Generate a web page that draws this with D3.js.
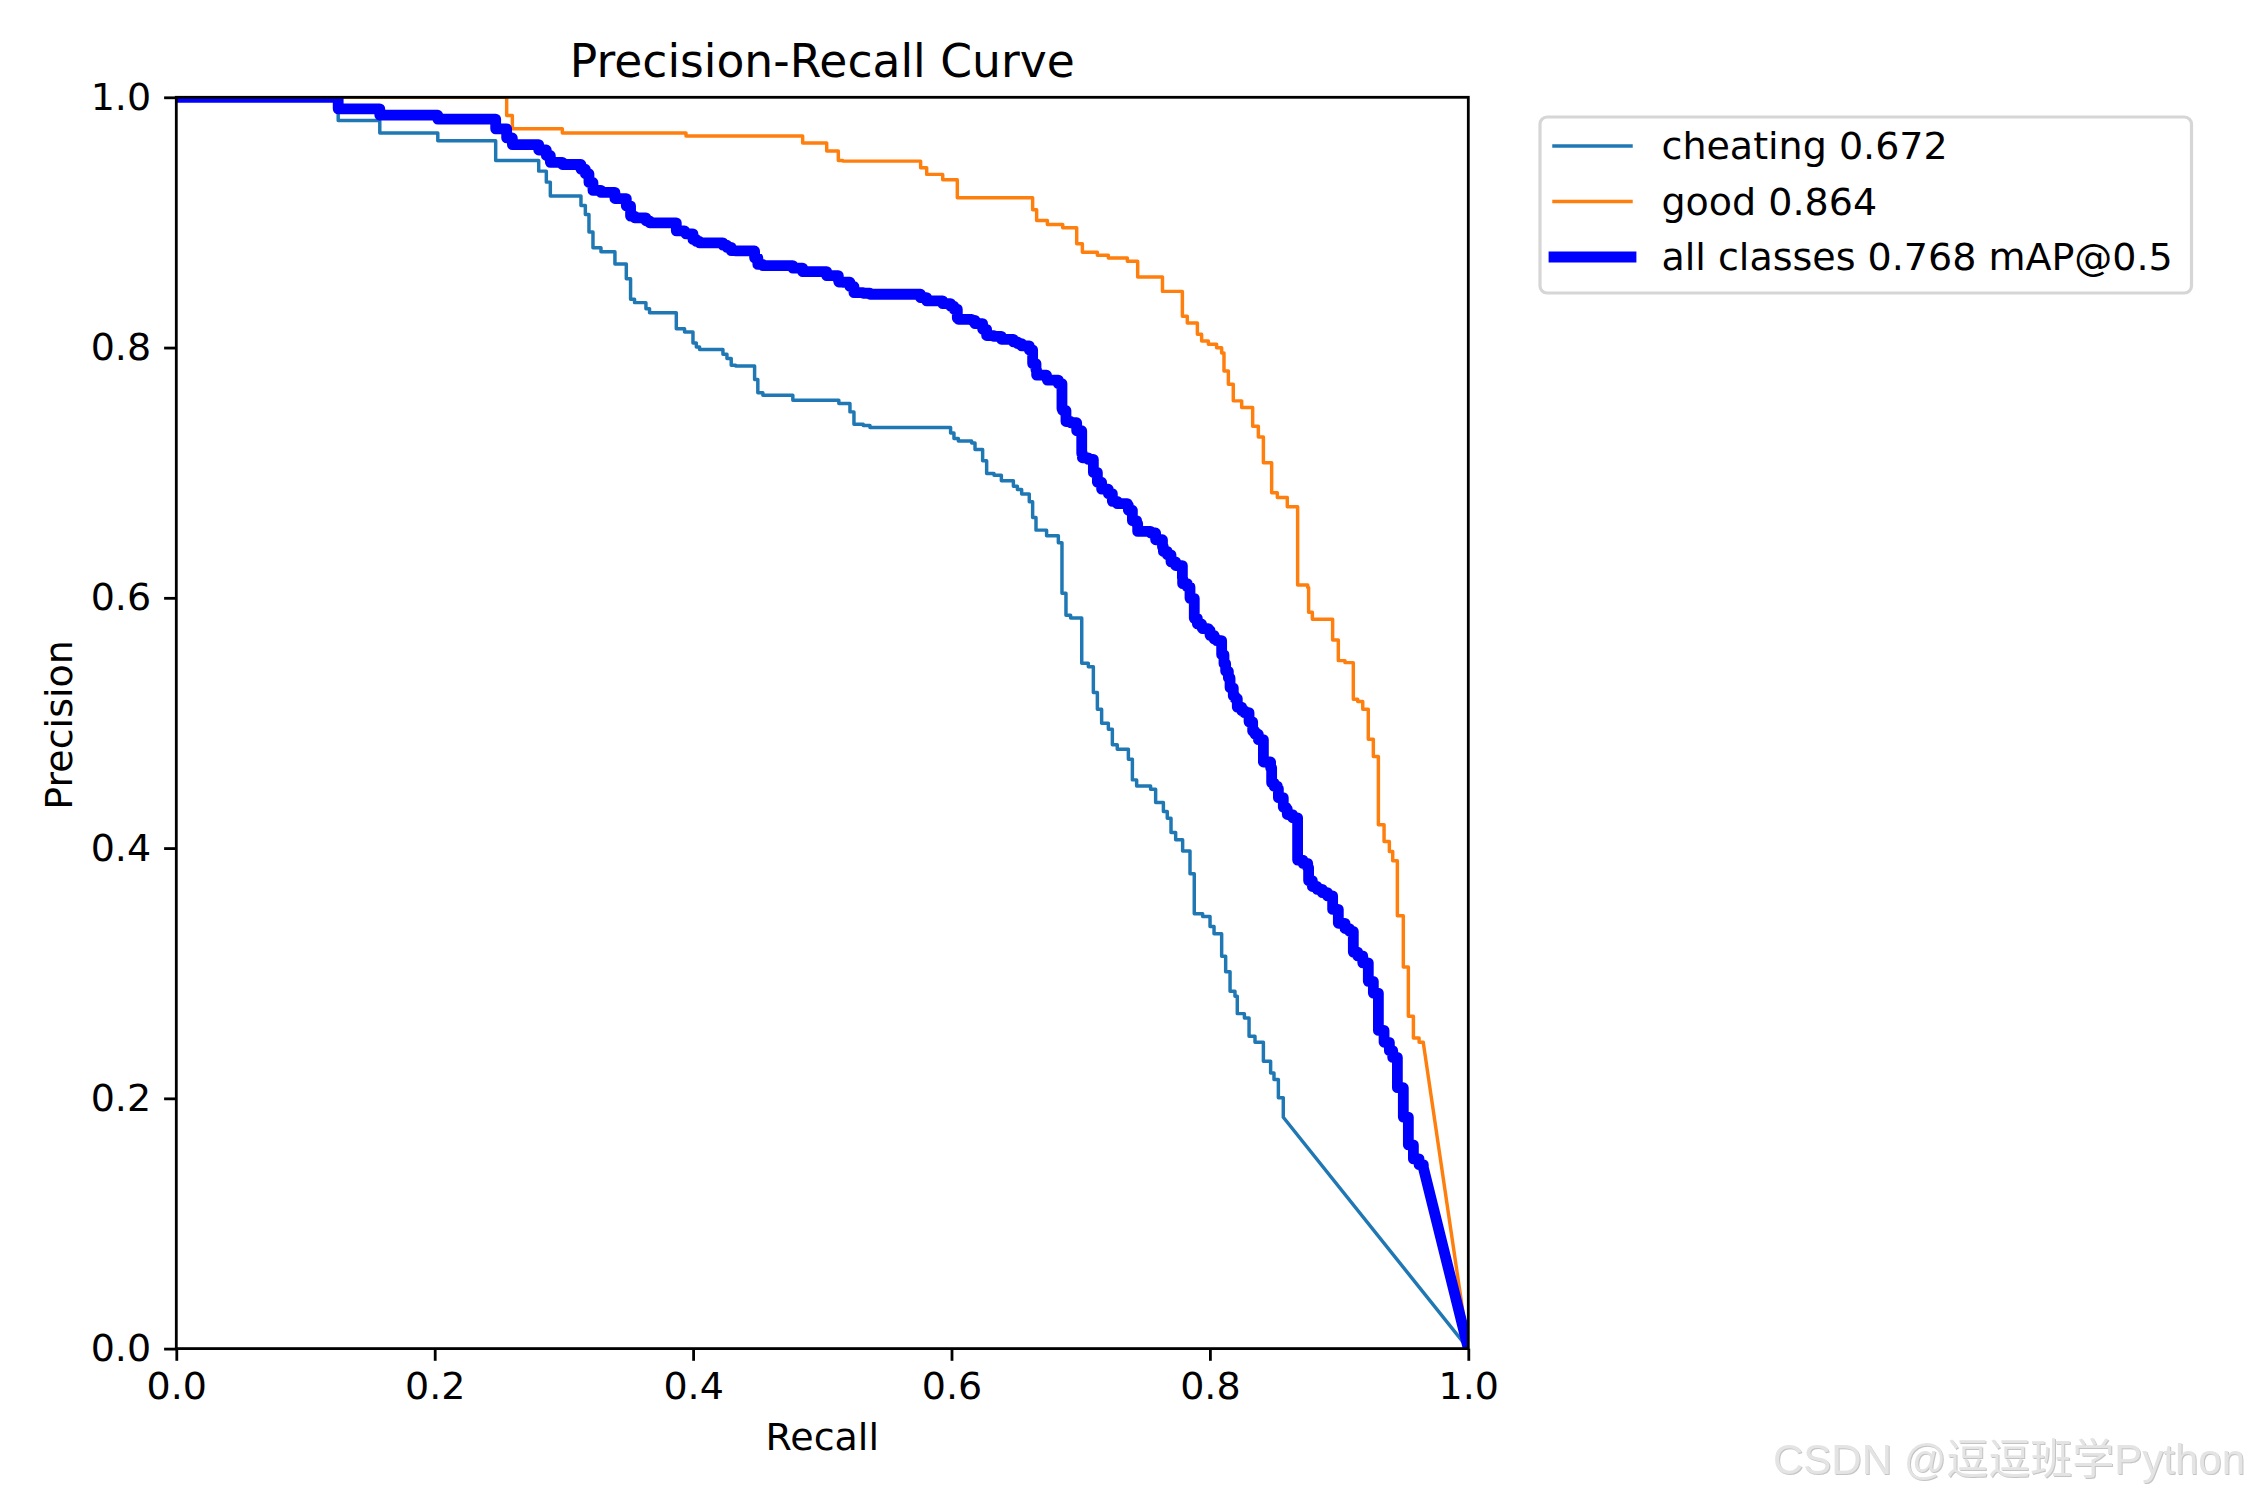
<!DOCTYPE html>
<html>
<head>
<meta charset="utf-8">
<script src="https://cdn.jsdelivr.net/npm/d3@7"></script>
<style>
  body { margin: 0; background: #fff; }
  text { font-family: "DejaVu Sans", sans-serif; fill: #000; }
</style>
</head>
<body>
<svg id="chart" width="2250" height="1500"></svg>
<script>
// each pair: recall where the curve drops, precision level after the drop
var cheatingRecall = [.1253,.1575,.2024,.2472,.2805,.2864,.2895,.3132,.3166,.3194,.3225,.3287,.3395,.3483,.3516,.3547,.3635,.3663,
  .3870,.3934,.3999,.4025,.4050,.4231,.4262,.4295,.4329,.4476,.4501,.4540,.4772,.5128,
  .5214,.5245,.5317,.5369,.5993,.6019,.6053,.6156,.6182,.6241,.6272,.6329,.6386,.6479,.6510,.6543,.6602,.6628,.6654,.6736,.6827,.6855,.6886,.6922,
  .7008,.7059,.7098,.7129,.7162,.7214,.7245,.7283,.7369,.7400,.7433,.7541,.7580,.7640,.7670,.7699,.7735,.7789,.7846,.7879,.7944,.8001,.8032,.8091,.8122,.8156,.8194,.8212,.8267,.8303,.8349,
  .8414,.8470,.8496,.8530,.8568];
var cheatingPrecision = [.9815,.9714,.9652,.9495,.9410,.9322,.9211,.9136,.9064,.8923,.8798,.8766,.8668,.8550,.8386,.8359,.8311,.8279,
  .8151,.8125,.8037,.8005,.7984,.7946,.7912,.7859,.7853,.7744,.7638,.7619,.7579,.7553,
  .7486,.7388,.7377,.7361,.7318,.7273,.7254,.7238,.7185,.7095,.6994,.6980,.6935,.6892,.6866,.6829,.6767,.6642,.6541,.6496,.6440,.6036,.5860,.5839,
  .5477,.5450,.5243,.5110,.4998,.4950,.4825,.4790,.4710,.4545,.4497,.4471,.4364,.4292,.4239,.4125,.4066,.3976,.3795,.3475,.3454,.3374,.3316,.3135,.3012,.2855,.2815,.2677,.2642,.2496,.2448,
  .2296,.2203,.2150,.2004,.1849];

var goodRecall = [.2548,.2557,.2601,.2988,.3945,.4848,.5034,.5124,.5158,.5761,.5808,.5932,.6045,.6628,.6659,.6742,.6861,.6969,.7013,.7129,.7214,.7361,.7441,.7633,
  .7787,.7825,.7903,.7936,.7988,.8052,.8091,.8109,.8143,.8181,.8246,.8331,.8375,.8414,.8478,.8522,.8599,.8679,.8757,.8764,.8793,.8950,.8994,.9046,
  .9110,.9144,.9183,.9226,.9265,.9304,.9348,.9389,.9415,.9451,.9497,.9536,.9575,.9619,.9652];
var goodPrecision = [1,.9855,.9748,.9714,.9690,.9634,.9570,.9495,.9490,.9437,.9384,.9341,.9197,.9101,.9016,.8984,.8958,.8830,.8761,.8737,.8716,.8689,.8564,.8449,
  .8250,.8197,.8106,.8053,.8026,.7999,.7957,.7813,.7707,.7574,.7521,.7372,.7286,.7079,.6839,.6802,.6727,.6102,.6083,.5884,.5828,.5663,.5498,.5482,
  .5189,.5171,.5110,.4870,.4732,.4186,.4053,.3973,.3899,.3460,.3050,.2656,.2483,.2448,.2443];

var allRecall = [.1253,.1575,.2024,.2472,.2557,.2601,.2805,.2864,.2895,.2988,.3132,.3166,.3194,.3225,.3287,.3395,.3483,.3516,.3547,.3635,.3663,
  .3870,.3934,.3945,.3999,.4025,.4050,.4231,.4262,.4295,.4329,.4476,.4501,.4540,.4772,.4848,.5034,.5124,.5128,.5158,.5214,.5245,.5317,.5369,.5761,.5808,.5932,.5993,
  .6019,.6045,.6053,.6156,.6182,.6241,.6272,.6329,.6386,.6479,.6510,.6543,.6602,.6628,.6654,.6659,.6736,.6742,.6827,.6855,.6861,.6886,.6922,.6969,
  .7008,.7013,.7059,.7098,.7129,.7162,.7214,.7245,.7283,.7361,.7369,.7400,.7433,.7441,.7541,.7580,.7633,.7640,.7670,.7699,.7735,.7787,.7789,.7825,.7846,.7879,.7903,.7936,.7944,.7988,
  .8001,.8032,.8052,.8091,.8109,.8122,.8143,.8156,.8181,.8194,.8212,.8246,.8267,.8303,.8331,.8349,.8375,.8414,.8470,.8478,.8496,.8522,.8530,.8568,
  .8590,.8599,.8640,.8679,.8720,.8757,.8764,.8793,.8830,.8870,.8910,.8950,.8994,.9046,.9080,.9110,.9144,.9183,.9226,.9265,.9304,.9348,.9389,.9415,.9451,.9497,.9536,.9575,.9619,.9652];
var allPrecision = [.9908,.9857,.9826,.9748,.9675,.9622,.9579,.9535,.9480,.9463,.9425,.9389,.9319,.9256,.9240,.9191,.9132,.9050,.9037,.9013,.8997,
  .8933,.8920,.8908,.8864,.8848,.8837,.8818,.8801,.8775,.8772,.8717,.8664,.8655,.8635,.8607,.8575,.8537,.8524,.8522,.8488,.8439,.8434,.8426,.8399,.8373,.8351,.8330,
  .8307,.8235,.8226,.8218,.8191,.8146,.8096,.8089,.8066,.8045,.8032,.8013,.7982,.7872,.7821,.7779,.7756,.7740,.7712,.7510,.7497,.7409,.7399,.7335,
  .7154,.7119,.7106,.7002,.6924,.6868,.6833,.6771,.6753,.6740,.6700,.6617,.6593,.6531,.6518,.6464,.6407,.6371,.6344,.6287,.6258,.6158,.6113,.6087,.5996,.5836,.5791,.5764,.5754,.5740,
  .5700,.5671,.5658,.5546,.5474,.5413,.5360,.5281,.5215,.5195,.5126,.5099,.5082,.5009,.4934,.4910,.4867,.4688,.4641,.4521,.4495,.4476,.4403,.4326,
  .4312,.4268,.4242,.3904,.3878,.3844,.3740,.3693,.3670,.3644,.3618,.3510,.3399,.3357,.3335,.3169,.3138,.3083,.2935,.2841,.2543,.2448,.2381,.2327,.2085,.1850,.1628,.1516,.1470,.1446];

var xTicks = [0, 0.2, 0.4, 0.6, 0.8, 1];
var yTicks = [0, 0.2, 0.4, 0.6, 0.8, 1];
var names = ["cheating 0.672", "good 0.864", "all classes 0.768 mAP@0.5"];
var colors = ["#1f77b4", "#ff7f0e", "#0000ff"];
var widths = [3.47, 3.47, 10.8];

var svg = d3.select("#chart"),
    left = 176.3, right = 1468.3, top_ = 97.3, bottom = 1348.6,
    fontSize = 38;

var x = d3.scaleLinear().domain([0, 1]).range([left, right]);
var y = d3.scaleLinear().domain([0, 1]).range([bottom, top_]);

// steps down from (0,1), then straight on to (1,0)
function vertices(rs, ps) {
    var pts = [[0, 1]], prev = 1;
    rs.forEach(function(r, i) {
        pts.push([r, prev]);
        pts.push([r, ps[i]]);
        prev = ps[i];
    });
    pts.push([1, 0]);
    return pts;
}

var line = d3.line()
    .x(function(d) { return x(d[0]); })
    .y(function(d) { return y(d[1]); });

svg.append("defs").append("clipPath").attr("id", "plot")
    .append("rect")
    .attr("x", left).attr("y", top_)
    .attr("width", right - left).attr("height", bottom - top_);

var curves = [vertices(cheatingRecall, cheatingPrecision),
              vertices(goodRecall, goodPrecision),
              vertices(allRecall, allPrecision)];

svg.append("g").attr("clip-path", "url(#plot)")
    .selectAll("path")
    .data(curves)
    .enter().append("path")
    .attr("d", line)
    .attr("fill", "none")
    .attr("stroke", function(d, i) { return colors[i]; })
    .attr("stroke-width", function(d, i) { return widths[i]; })
    .attr("stroke-linejoin", "round");

var xAxis = d3.axisBottom(x).tickValues(xTicks).tickFormat(d3.format(".1f")).tickSize(12.2).tickPadding(11).tickSizeOuter(0);
var yAxis = d3.axisLeft(y).tickValues(yTicks).tickFormat(d3.format(".1f")).tickSize(12.2).tickPadding(13).tickSizeOuter(0);

[svg.append("g").attr("transform", "translate(0," + bottom + ")").call(xAxis),
 svg.append("g").attr("transform", "translate(" + left + ",0)").call(yAxis)].forEach(function(g) {
    g.selectAll("text").attr("font-size", fontSize).style("font-family", '"DejaVu Sans"');
    g.selectAll("line").attr("stroke-width", 2.8).attr("stroke", "#000");
    g.select(".domain").remove();
});

svg.append("rect")
    .attr("x", left).attr("y", top_)
    .attr("width", right - left).attr("height", bottom - top_)
    .attr("fill", "none").attr("stroke", "#000").attr("stroke-width", 2.8);

svg.append("text").attr("x", (left + right) / 2).attr("y", 77)
    .attr("text-anchor", "middle").attr("font-size", 45.6)
    .text("Precision-Recall Curve");
svg.append("text").attr("x", (left + right) / 2).attr("y", 1450)
    .attr("text-anchor", "middle").attr("font-size", fontSize)
    .text("Recall");
svg.append("text")
    .attr("transform", "translate(72," + ((bottom + top_) / 2 + 2) + ") rotate(-90)")
    .attr("text-anchor", "middle").attr("font-size", fontSize)
    .text("Precision");

// legend
var legend = svg.append("g");
legend.append("rect")
    .attr("x", 1540).attr("y", 117)
    .attr("width", 651.5).attr("height", 176)
    .attr("rx", 7)
    .attr("fill", "#fff").attr("stroke", "#d6d6d6").attr("stroke-width", 3.2);

var rows = legend.selectAll("g.row")
    .data(names)
    .enter().append("g")
    .attr("class", "row")
    .attr("transform", function(d, i) { return "translate(0," + (146 + i * 55.5) + ")"; });
rows.append("line")
    .attr("x1", 1554).attr("x2", 1631)
    .attr("stroke", function(d, i) { return colors[i]; })
    .attr("stroke-width", function(d, i) { return widths[i]; })
    .attr("stroke-linecap", "square");
rows.append("text")
    .attr("x", 1661.5).attr("y", 13)
    .attr("font-size", fontSize)
    .text(function(d) { return d; });

// watermark
svg.append("text")
    .attr("x", 1773).attr("y", 1474)
    .attr("font-size", 42)
    .style("font-family", '"Liberation Sans", "Noto Sans CJK SC"')
    .style("fill", "#e4e4e4")
    .style("filter", "drop-shadow(1px 1px 0 #c4c4c4)")
    .text("CSDN @逗逗班学Python");
</script>
</body>
</html>
